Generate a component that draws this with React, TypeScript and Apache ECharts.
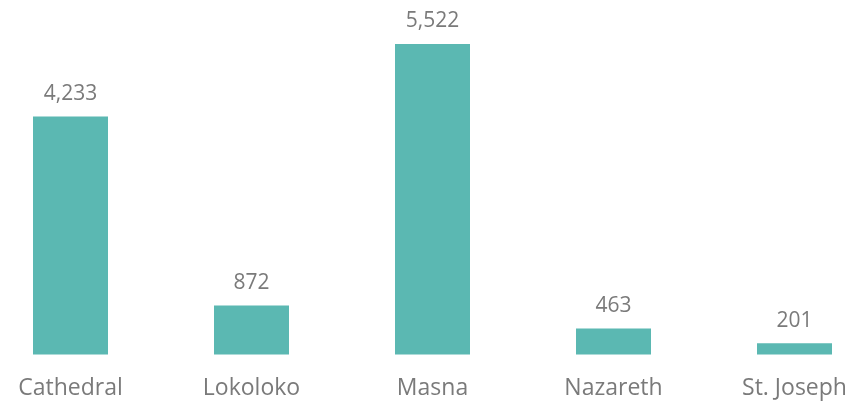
import React, { useEffect, useRef } from "react";
import * as echarts from "echarts";

const categories = ["Cathedral", "Lokoloko", "Masna", "Nazareth", "St. Joseph"];
const values = [4233, 872, 5522, 463, 201];

export default function App() {
  const ref = useRef<HTMLDivElement>(null);
  useEffect(() => {
    if (!ref.current) return;
    const chart = echarts.init(ref.current, null, { renderer: "svg" });
    chart.setOption({
      animation: false,
      grid: { left: 0, right: 0, top: 17, height: 337.5, containLabel: false },
      xAxis: {
        type: "category",
        data: categories,
        axisLine: { show: false },
        axisTick: { show: false },
        axisLabel: {
          color: "#7a7a7a",
          fontFamily: "Open Sans",
          fontSize: 23,
          lineHeight: 24,
          margin: 19.5,
        },
      },
      yAxis: {
        type: "value",
        min: 0,
        max: 6000,
        show: false,
        splitLine: { show: false },
      },
      series: [
        {
          type: "bar",
          data: values,
          barWidth: 75,
          itemStyle: { color: "#5BB8B2" },
          label: {
            show: true,
            position: "top",
            distance: 14,
            color: "#7a7a7a",
            fontFamily: "Open Sans",
            fontSize: 21,
            formatter: (p: any) => p.value.toLocaleString("en-US"),
          },
        },
      ],
    });
    return () => chart.dispose();
  }, []);
  return (
    <div
      ref={ref}
      style={{ position: "fixed", left: -20.5, top: 0, width: 905, height: 402 }}
    />
  );
}
